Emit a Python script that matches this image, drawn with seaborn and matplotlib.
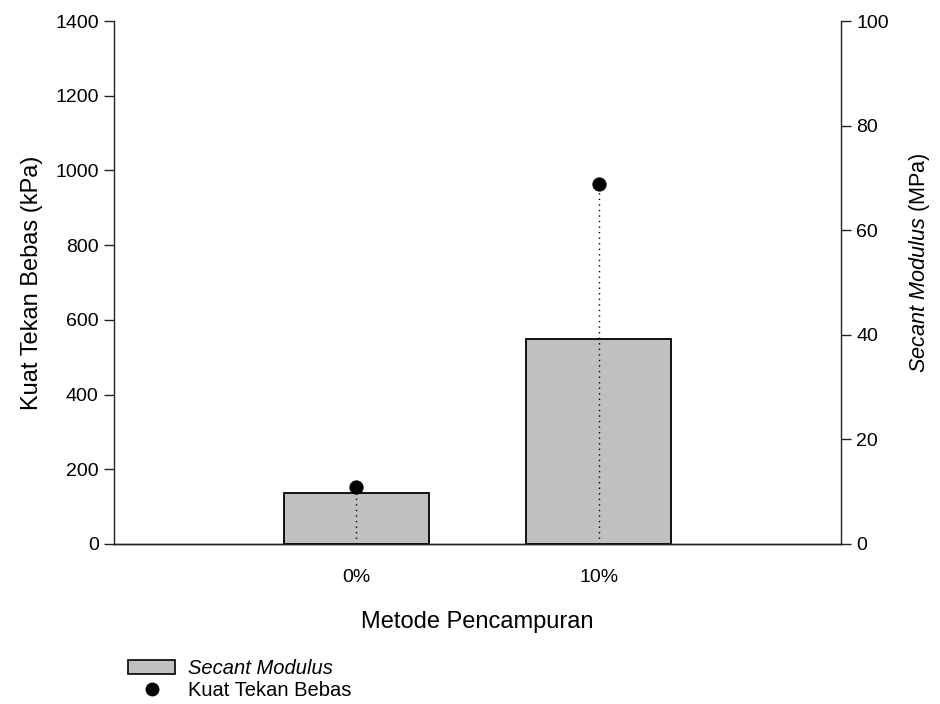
import matplotlib
matplotlib.use("Agg")
import matplotlib.pyplot as plt
import seaborn as sns
import pandas as pd
from matplotlib.patches import Patch
from matplotlib.lines import Line2D

categories = ["0%", "10%"]
positions = [1, 2]
secant_modulus = [9.7, 39.2]      # MPa (right axis)
kuat_tekan = [153, 963]           # kPa (left axis)

sns.set_theme(style="white")
plt.rcParams['font.family'] = ['Liberation Sans', 'DejaVu Sans']
plt.rcParams['mathtext.fontset'] = 'custom'
plt.rcParams['mathtext.rm'] = 'Liberation Sans'
plt.rcParams['mathtext.it'] = 'Liberation Sans:italic'
plt.rcParams['text.color'] = 'black'
plt.rcParams['axes.labelcolor'] = 'black'

df = pd.DataFrame({"pos": positions, "cat": categories,
                   "sm": secant_modulus, "ktb": kuat_tekan})

fig = plt.figure(figsize=(9.4, 7.04), dpi=100)
ax = fig.add_axes([114/940, 1-544/704, (841-114)/940, (544-21)/704])
ax2 = ax.twinx()

# bars on right axis (MPa)
sns.barplot(data=df, x="pos", y="sm", native_scale=True, width=0.6,
            color="#c0c0c0", edgecolor="black", linewidth=1.3, ax=ax2,
            saturation=1)
# points on left axis (kPa)
ax.vlines(df["pos"], 0, df["ktb"], colors="black", linestyles=(0, (1, 3)),
          linewidth=1.0)
sns.scatterplot(data=df, x="pos", y="ktb", color="black", s=90, ax=ax,
                edgecolor="black", zorder=5)

ax.set_zorder(ax2.get_zorder() + 1)
ax.patch.set_visible(False)

ax.set_xlim(0, 3)
ax.set_ylim(0, 1400)
ax2.set_ylim(0, 100)
ax.set_yticks(range(0, 1401, 200))
ax2.set_yticks(range(0, 101, 20))
ax.set_xticks(positions)
ax.set_xticklabels(categories)

for a in (ax, ax2):
    for s in a.spines.values():
        s.set_color("#222222")
        s.set_linewidth(1.0)
    a.spines["top"].set_visible(False)
    a.tick_params(axis="both", direction="out", length=7, width=1.0,
                  color="#222222", labelsize=14, labelcolor="black", pad=6)
ax.spines["right"].set_visible(False)
ax2.spines["left"].set_visible(False)
ax.tick_params(axis="x", length=8, pad=10)
ax.tick_params(axis="y", left=True, right=False, pad=4)
ax2.tick_params(axis="y", right=True, left=False, pad=4)

ax.set_xlabel("Metode Pencampuran", fontsize=17, labelpad=18)
ax.set_ylabel("Kuat Tekan Bebas (kPa)", fontsize=17, labelpad=9)
ax2.set_ylabel(r"$\mathit{Secant\ Modulus}$ (MPa)", fontsize=15.6)
ax2.yaxis.label.set_va("center")
ax2.yaxis.label.set_ha("center")
ax2.yaxis.set_label_coords((920 - 114) / 727, (544 - 263) / 523)
ax2.set_xlabel("")

handles = [Patch(facecolor="#c0c0c0", edgecolor="black", linewidth=1.2),
           Line2D([], [], marker="o", color="black", linestyle="None", markersize=9)]
leg = fig.legend(handles, ["Secant Modulus", "Kuat Tekan Bebas"],
                 loc="upper left", bbox_to_anchor=(118/940, 1-649/704),
                 frameon=False, fontsize=14.5, handlelength=2.34, handleheight=0.7,
                 handletextpad=0.65, labelspacing=0.15, borderpad=0)
leg.get_texts()[0].set_fontstyle("italic")

fig.savefig("out.png", dpi=100)
